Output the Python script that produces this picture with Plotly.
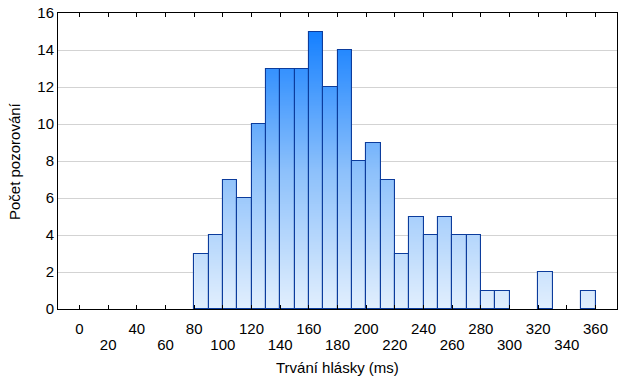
import plotly.graph_objects as go
import numpy as np

bin_starts = [80, 90, 100, 110, 120, 130, 140, 150, 160, 170, 180, 190, 200, 210,
              220, 230, 240, 250, 260, 270, 280, 290, 300, 310, 320, 330, 340, 350]
counts = [3, 4, 7, 6, 10, 13, 13, 13, 15, 12, 14, 8, 9, 7,
          3, 5, 4, 5, 4, 4, 1, 1, 0, 0, 2, 0, 0, 1]
bin_width = 10
tick_values = list(range(0, 361, 20))
x_title = "Trvání hlásky (ms)"
y_title = "Počet pozorování"

# gradient fill derived from counts (heatmap cells below each bar's top)
x_edges = bin_starts + [bin_starts[-1] + bin_width]
step = 0.05
y_edges = np.round(np.arange(0, 16 + step / 2, step), 4)
z = []
for j in range(len(y_edges) - 1):
    top = y_edges[j + 1]
    row = []
    for c in counts:
        row.append(float(y_edges[j] + step / 2) if top <= c + 1e-9 else None)
    z.append(row)

fig = go.Figure()
fig.add_trace(go.Heatmap(
    x=x_edges, y=list(y_edges), z=z,
    colorscale=[[0, "#e2effd"], [0.5, "#8cc0fb"], [1, "#1580ff"]],
    zmin=0, zmax=15, showscale=False, hoverinfo="skip",
))
fig.add_trace(go.Bar(
    x=[b + bin_width / 2 for b in bin_starts],
    y=[c if c > 0 else None for c in counts], width=bin_width,
    marker=dict(color="rgba(0,0,0,0)", line=dict(color="#0c3c9c", width=1.1)),
    showlegend=False, hoverinfo="x+y",
))
# invisible helper trace so the second (staggered) label row is drawn
fig.add_trace(go.Scatter(x=[0], y=[0], xaxis="x2", mode="markers",
                         marker=dict(opacity=0), hoverinfo="skip", showlegend=False))

row1_text = [str(v) if i % 2 == 0 else "" for i, v in enumerate(tick_values)]
row2_vals = [v for i, v in enumerate(tick_values) if i % 2 == 1]

FS = 15
fig.update_layout(
    width=624, height=384,
    margin=dict(l=58, r=7, t=13, b=75),
    paper_bgcolor="white", plot_bgcolor="white",
    font=dict(family="Liberation Sans, Arial, sans-serif", size=FS, color="black"),
    showlegend=False,
    bargap=0,
    xaxis=dict(
        range=[-15, 375], tickvals=tick_values, ticktext=row1_text,
        ticks="inside", ticklen=4, tickcolor="black", mirror="ticks",
        showline=True, linecolor="black", linewidth=1, showgrid=False, zeroline=False,
        automargin=False, ticklabelstandoff=6, tickfont=dict(size=FS),
    ),
    xaxis2=dict(
        range=[-15, 375], overlaying="x", side="bottom", anchor="y",
        tickvals=row2_vals, ticks="", showline=False, showgrid=False, zeroline=False,
        automargin=False, ticklabelstandoff=25, tickfont=dict(size=FS),
    ),
    yaxis=dict(
        range=[0, 16], tickvals=list(range(0, 17, 2)),
        ticks="", mirror=True, showline=True, linecolor="black", linewidth=1,
        showgrid=True, gridcolor="#d3d3d3", gridwidth=1, zeroline=False,
        automargin=False, tickfont=dict(size=FS), ticklabeloverflow="allow",
    ),
    annotations=[
        dict(text=x_title, xref="paper", yref="paper", x=0.5, y=0,
             xanchor="center", yanchor="middle", yshift=-58, showarrow=False,
             font=dict(size=FS)),
        dict(text=y_title, xref="paper", yref="paper", x=0, y=0.5,
             xanchor="center", yanchor="middle", xshift=-44, textangle=-90,
             showarrow=False, font=dict(size=FS)),
    ],
)
fig.write_html("out.html", config={"displayModeBar": False},
               post_script="document.body.style.margin='0';")
